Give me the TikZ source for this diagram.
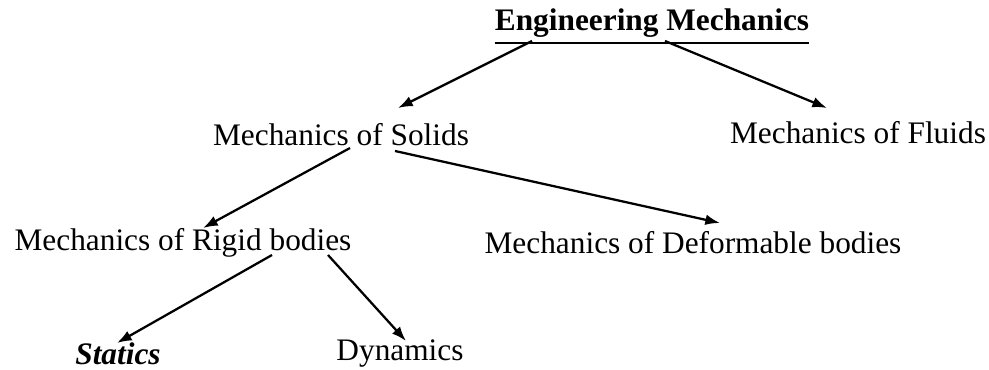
\documentclass[tikz,border=0pt]{standalone}
\usepackage{fontspec}
\setmainfont{Liberation Serif}
\usetikzlibrary{arrows.meta}
\begin{document}
\begin{tikzpicture}[x=0.75pt,y=-0.75pt,
  lbl/.style={inner sep=0pt,font=\fontsize{23.5}{28}\selectfont},
  arr/.style={-{Latex[length=11pt,width=8pt]},line width=1.7pt}]
\useasboundingbox (0,0) rectangle (989,370);
\node[lbl] (em) at (652,23) {\textbf{Engineering Mechanics}};
\draw[line width=1.5pt] ([yshift=-4pt]em.south west) -- ([yshift=-4pt]em.south east);
\node[lbl] (sol) at (341,135) {Mechanics of Solids};
\node[lbl] (flu) at (858,133) {Mechanics of Fluids};
\node[lbl] (rig) at (183,243) {Mechanics of Rigid bodies};
\node[lbl] (def) at (693,243) {Mechanics of Deformable bodies};
\node[lbl] (sta) at (118,354) {\textbf{\textit{Statics}}};
\node[lbl] (dyn) at (400,354) {Dynamics};
\coordinate (s1) at (532,41);
\coordinate (s2) at (665,41);
\coordinate (t1) at (398,108);
\coordinate (t2) at (827,108);
\coordinate (s3) at (350,148);
\coordinate (s4) at (395,151);
\coordinate (t3) at (203,228);
\coordinate (t4) at (720,223);
\coordinate (s5) at (272,255);
\coordinate (s6) at (328,255);
\coordinate (t5) at (117,343);
\coordinate (t6) at (406,341);
\draw[arr] (s1) -- (t1);
\draw[arr] (s2) -- (t2);
\draw[arr] (s3) -- (t3);
\draw[arr] (s4) -- (t4);
\draw[arr] (s5) -- (t5);
\draw[arr] (s6) -- (t6);
\end{tikzpicture}
\end{document}
